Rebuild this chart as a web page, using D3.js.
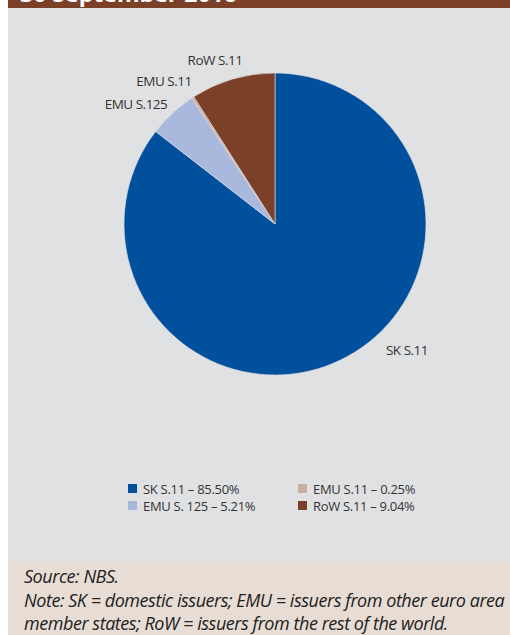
<!DOCTYPE html>
<html>
<head>
<meta charset="utf-8">
<script src="https://cdn.jsdelivr.net/npm/d3@7"></script>
<style>
  body { margin: 0; background: #fff; }
  text { font-family: "Open Sans", sans-serif; }
</style>
</head>
<body>
<svg id="chart"></svg>
<script>
var w = 510;
var h = 635;

// data
var categories = ["SK S.11", "EMU S.125", "EMU S.11", "RoW S.11"];
var shares = [85.50, 5.21, 0.25, 9.04];
var legendLabels = ["SK S.11 – 85.50%", "EMU S. 125 – 5.21%", "EMU S.11 – 0.25%", "RoW S.11 – 9.04%"];
var colors = ["#00509e", "#a9b9dd", "#c9ae9d", "#7c3f27"];
var title = "30 September 2016";
var notes = ["Source: NBS.",
  "Note: SK = domestic issuers; EMU = issuers from other euro area",
  "member states; RoW = issuers from the rest of the world."];

var svg = d3.select("#chart")
    .attr("width", w)
    .attr("height", h);

// header band (title cut off at top, as in the source)
svg.append("rect").attr("x", 8).attr("y", 0).attr("width", w - 8).attr("height", 8).attr("fill", "#7c3f27");
svg.append("text").attr("x", 20).attr("y", 1.5)
    .attr("fill", "#fff").style("font-size", "22px").style("font-weight", "bold")
    .attr("textLength", 217).attr("lengthAdjust", "spacingAndGlyphs")
    .text(title);

// panel
svg.append("rect").attr("x", 8).attr("y", 8).attr("width", w - 8).attr("height", 553).attr("fill", "#e0e1e3");
svg.append("rect").attr("x", 8).attr("y", 561).attr("width", w - 8).attr("height", h - 561).attr("fill", "#e8ddd4");

// pie
var cx = 275, cy = 224, r = 151;
var pie = d3.pie().sort(null).value(d => d)(shares);
var arc = d3.arc().innerRadius(0).outerRadius(r);
var g = svg.append("g").attr("transform", "translate(" + cx + "," + cy + ")");
g.selectAll("path")
    .data(pie)
    .enter().append("path")
    .attr("d", arc)
    .attr("fill", (d, i) => colors[i])
    .attr("stroke", "#e0e1e3")
    .attr("stroke-width", 0.6);

// slice labels
var labelPos = [[407, 350], [136, 104], [164, 81], [215, 60]];
svg.selectAll(".slice-label")
    .data(categories)
    .enter().append("text")
    .attr("class", "slice-label")
    .attr("x", (d, i) => labelPos[i][0])
    .attr("y", (d, i) => labelPos[i][1] + 5)
    .attr("text-anchor", "middle")
    .attr("fill", "#333")
    .style("font-size", "13.5px")
    .style("letter-spacing", "-0.5px")
    .text(d => d);

// legend
var legendX = [128, 128, 298, 298];
var legendY = [489, 506, 489, 506];
var lg = svg.selectAll(".legend")
    .data(legendLabels)
    .enter().append("g")
    .attr("class", "legend")
    .attr("transform", (d, i) => "translate(" + legendX[i] + "," + legendY[i] + ")");
lg.append("rect").attr("x", 0).attr("y", -5).attr("width", 9).attr("height", 9)
    .attr("fill", (d, i) => colors[i]);
lg.append("text").attr("x", 15).attr("y", 5)
    .attr("fill", "#333").style("font-size", "13px").style("letter-spacing", "-0.3px")
    .text(d => d);

// notes
svg.selectAll(".note")
    .data(notes)
    .enter().append("text")
    .attr("class", "note")
    .attr("x", 24)
    .attr("y", (d, i) => 583 + i * 23.5)
    .attr("fill", "#222")
    .style("font-size", "18px")
    .style("font-style", "italic")
    .style("letter-spacing", "-0.45px")
    .text(d => d);
</script>
</body>
</html>
